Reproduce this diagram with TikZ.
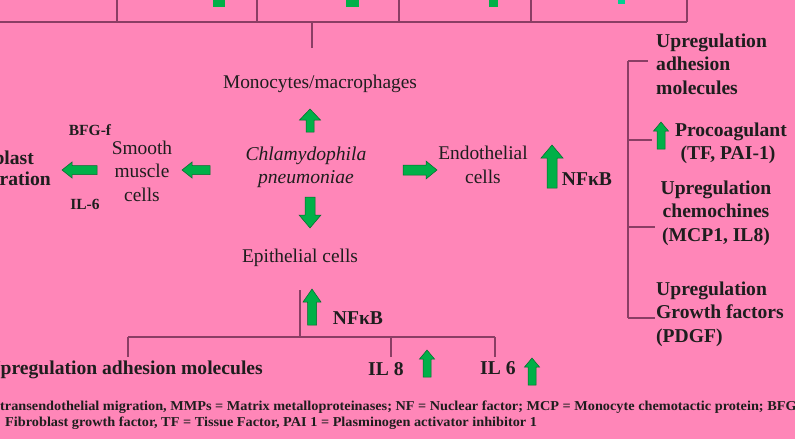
\documentclass[tikz,border=0pt]{standalone}
\usepackage{fontspec}
\setmainfont{Liberation Serif}
\definecolor{bgpink}{RGB}{255,134,184}
\definecolor{linecol}{RGB}{138,62,100}
\definecolor{agreen}{RGB}{0,176,72}
\definecolor{txt}{RGB}{30,30,30}
\tikzset{
  conn/.style={draw=linecol,line width=1.8pt},
  garrow/.style={fill=agreen,draw=agreen!60!black,line width=0.5pt},
  lbl/.style={inner sep=0pt,text=txt,font=\fontsize{19.4}{23.5}\selectfont,align=center},
  blbl/.style={inner sep=0pt,text=txt,font=\fontsize{19.6}{23.5}\selectfont\bfseries,align=center},
  sblbl/.style={inner sep=0pt,text=txt,font=\fontsize{15.5}{17}\selectfont\bfseries},
  foot/.style={inner sep=0pt,text=txt,font=\fontsize{13.6}{15}\selectfont\bfseries,anchor=west,xscale=1.05},
}
% #1 tip x, #2 tip y, #3 length, #4 half head width, #5 half shaft width, #6 head length
\newcommand\ArrUp[6]{\filldraw[garrow] (#1,#2) -- ++(#4,#6) -- ++(-#4+#5,0) -- ++(0,#3-#6) -- ++(-2*#5,0) -- ++(0,-#3+#6) -- ++(-#4+#5,0) -- cycle;}
\newcommand\ArrDown[6]{\filldraw[garrow] (#1,#2) -- ++(#4,-#6) -- ++(-#4+#5,0) -- ++(0,-#3+#6) -- ++(-2*#5,0) -- ++(0,#3-#6) -- ++(-#4+#5,0) -- cycle;}
\newcommand\ArrLeft[6]{\filldraw[garrow] (#1,#2) -- ++(#6,#4) -- ++(0,-#4+#5) -- ++(#3-#6,0) -- ++(0,-2*#5) -- ++(-#3+#6,0) -- ++(0,-#4+#5) -- cycle;}
\newcommand\ArrRight[6]{\filldraw[garrow] (#1,#2) -- ++(-#6,#4) -- ++(0,-#4+#5) -- ++(-#3+#6,0) -- ++(0,-2*#5) -- ++(#3-#6,0) -- ++(0,-#4+#5) -- cycle;}
\begin{document}
\begin{tikzpicture}[x=1pt,y=-1pt]
\fill[bgpink] (0,0) rectangle (795,439);
\useasboundingbox (0,0) rectangle (795,439);

% top partial arrows
\fill[agreen] (213,0) rectangle (225,7);
\fill[agreen] (346,0) rectangle (359,7);
\fill[agreen] (489,0) rectangle (498,7);
\fill[agreen!60!cyan] (618,0) rectangle (625,4);

% top bracket
\coordinate (tl) at (0,22);
\coordinate (tr) at (687,22);
\coordinate (tt1) at (117,0);
\coordinate (tt2) at (257,0);
\coordinate (tt3) at (399,0);
\coordinate (tt4) at (531,0);
\coordinate (tt5) at (687,0);
\coordinate (td) at (312,48);
\draw[conn] (tl) -- (tr);
\foreach \t in {tt1,tt2,tt3,tt4,tt5}{\draw[conn] (\t) -- (\t |- tl);}
\draw[conn] (td |- tl) -- (td);

% central labels
\node[lbl] (mono) at (320,84) {Monocytes/macrophages};
\node[lbl,font=\fontsize{19.6}{23}\selectfont\itshape] (cp) at (306,167) {Chlamydophila\\pneumoniae};
\node[lbl] (endo) at (483,165) {Endothelial\\cells};
\node[lbl] (epi) at (300,258) {Epithelial cells};
\node[lbl] (smc) at (142,171) {Smooth\\muscle\\cells};
\node[sblbl] (bfg) at (90,130) {BFG-f};
\node[sblbl] (il6s) at (85,204) {IL-6};
\node[blbl,anchor=east] (fib1) at (34,158) {Fibroblast};
\node[blbl,anchor=east] (fib2) at (51,181) {migration};

% green arrows
\ArrUp{310}{109}{23}{10.5}{4}{11}
\ArrDown{310}{228}{31}{11}{5}{13}
\ArrRight{437}{170}{34}{9}{5}{11}
\ArrLeft{182}{170}{28}{8}{4.5}{10}
\ArrLeft{62}{170}{35}{8}{4.5}{10}
\ArrUp{552}{145}{43}{11}{5}{13}
\ArrUp{661}{122}{27}{7.5}{4}{9}
\ArrUp{312}{289}{36}{9}{4.5}{13}
\ArrUp{427}{350}{27}{7.5}{4}{9}
\ArrUp{532}{358}{27}{7.5}{4}{9}

\node[blbl] (nfk1) at (587,179) {NF\char"03BA B};
\node[blbl] (nfk2) at (358,318) {NF\char"03BA B};

% right bracket
\coordinate (rtop) at (628,61);
\coordinate (rbot) at (628,318);
\draw[conn] (rtop) -- (rbot);
\node[blbl,align=left,anchor=west] (ua) at (656,64) {Upregulation\\adhesion\\molecules};
\node[blbl] (proc) at (731,132) {Procoagulant};
\node[blbl] (tfpai) at (728,155) {(TF, PAI-1)};
\node[blbl] (chem) at (716,213) {Upregulation\\chemochines\\(MCP1, IL8)};
\node[blbl,align=left,anchor=west] (gf) at (656,314) {Upregulation\\Growth factors\\(PDGF)};
\draw[conn] (rtop) -- (648,61);
\draw[conn] (628,140) -- (652,140);
\draw[conn] (628,227) -- (655,227);
\draw[conn] (rbot) -- (655,318);

% bottom tree
\coordinate (bv) at (300,290);
\coordinate (bj) at (300,337);
\coordinate (bl) at (128,357);
\coordinate (bm) at (391,357);
\coordinate (br) at (495,357);
\draw[conn] (bv) -- (bj);
\draw[conn] (bl |- bj) -- (br |- bj);
\draw[conn] (bl |- bj) -- (bl);
\draw[conn] (bm |- bj) -- (bm);
\draw[conn] (br |- bj) -- (br);

\node[blbl,anchor=east] (uam) at (263,370) {Upregulation adhesion molecules};
\node[blbl,anchor=west] (il8) at (368,369) {IL 8};
\node[blbl,anchor=west] (il6) at (480,368) {IL 6};

% footnote
\node[foot] (f1) at (0,407) {transendothelial migration, MMPs = Matrix metalloproteinases; NF = Nuclear factor; MCP = Monocyte chemotactic protein; BFG};
\node[foot] (f2) at (5,423) {Fibroblast growth factor, TF = Tissue Factor, PAI 1 = Plasminogen activator inhibitor 1};
\end{tikzpicture}
\end{document}
